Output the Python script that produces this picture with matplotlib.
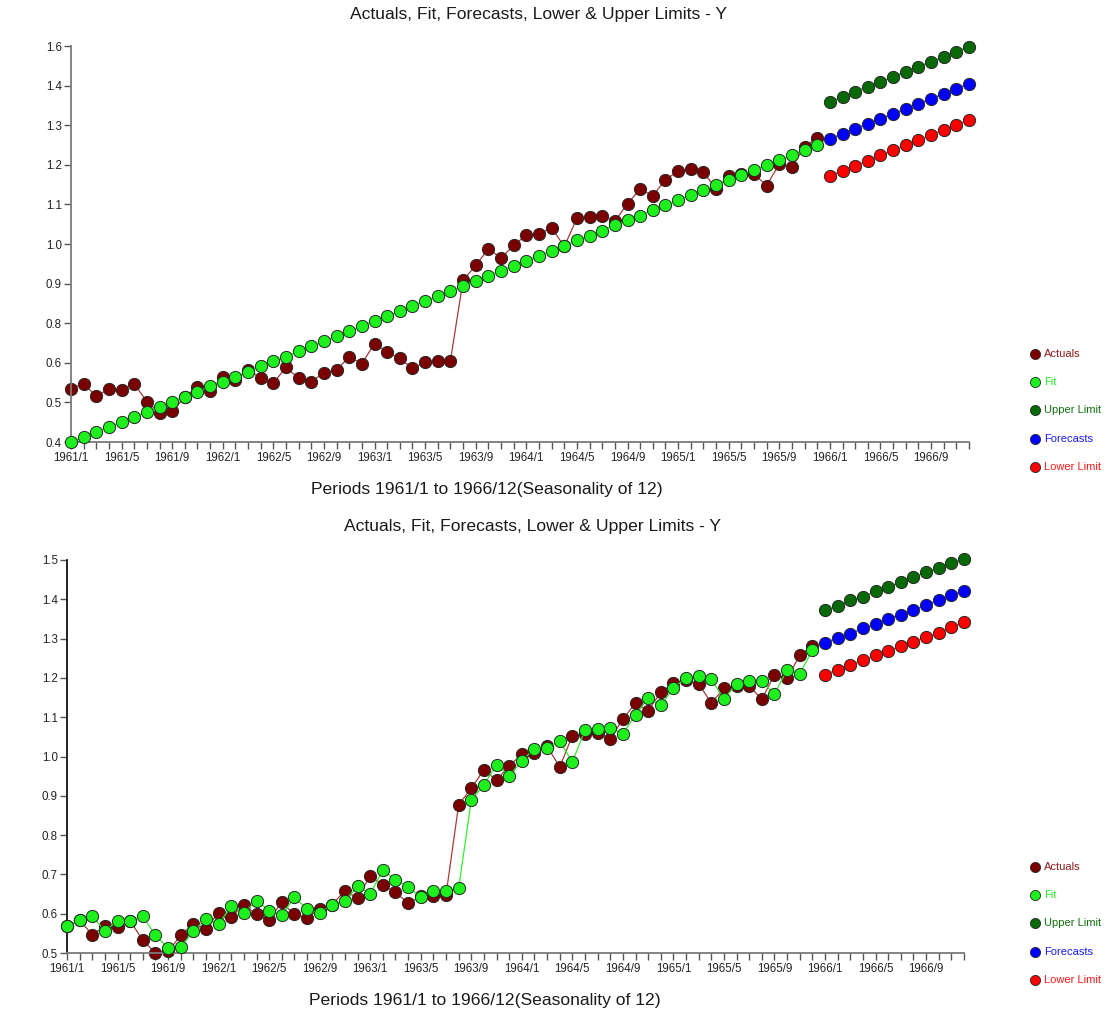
import matplotlib
matplotlib.use('Agg')
import matplotlib.pyplot as plt
from matplotlib.lines import Line2D
import numpy as np

plt.rcParams['font.family'] = ['Liberation Sans', 'DejaVu Sans']

# ---------------- data ----------------
n_periods = 72
tick_labels = ["1961/1", "1961/5", "1961/9", "1962/1", "1962/5", "1962/9",
               "1963/1", "1963/5", "1963/9", "1964/1", "1964/5", "1964/9",
               "1965/1", "1965/5", "1965/9", "1966/1", "1966/5", "1966/9"]

actuals = [0.569, 0.583, 0.547, 0.568, 0.566, 0.582, 0.532, 0.500, 0.504, 0.545,
           0.574, 0.562, 0.603, 0.592, 0.623, 0.598, 0.585, 0.629, 0.598, 0.589,
           0.613, 0.623, 0.659, 0.640, 0.697, 0.672, 0.655, 0.626, 0.644, 0.646,
           0.648, 0.877, 0.919, 0.966, 0.940, 0.976, 1.006, 1.009, 1.026, 0.973,
           1.053, 1.056, 1.060, 1.045, 1.095, 1.136, 1.117, 1.163, 1.187, 1.194,
           1.185, 1.136, 1.174, 1.179, 1.179, 1.146, 1.208, 1.200, 1.257, 1.282]

# top panel (trend model)
fit_top = [0.417, 0.431, 0.446, 0.460, 0.474, 0.489, 0.503, 0.517, 0.532, 0.546,
           0.560, 0.575, 0.589, 0.603, 0.617, 0.632, 0.646, 0.660, 0.675, 0.689,
           0.703, 0.718, 0.732, 0.746, 0.761, 0.775, 0.789, 0.804, 0.818, 0.832,
           0.847, 0.861, 0.875, 0.890, 0.904, 0.918, 0.933, 0.947, 0.961, 0.975,
           0.990, 1.004, 1.018, 1.033, 1.047, 1.061, 1.076, 1.090, 1.104, 1.119,
           1.133, 1.147, 1.162, 1.176, 1.190, 1.205, 1.219, 1.233, 1.248, 1.262]
upper_top = [1.384, 1.398, 1.413, 1.427, 1.441, 1.455, 1.470, 1.484, 1.498, 1.512, 1.527, 1.541]
fcst_top = [1.279, 1.293, 1.308, 1.322, 1.336, 1.350, 1.365, 1.379, 1.393, 1.407, 1.422, 1.436]
lower_top = [1.174, 1.188, 1.203, 1.217, 1.232, 1.246, 1.261, 1.275, 1.290, 1.304, 1.319, 1.333]
ylim_top = (0.417, 1.543)
ylabels_top = ["0.4", "0.5", "0.6", "0.8", "0.9", "1.0", "1.1", "1.2", "1.3", "1.4", "1.6"]

# bottom panel (random walk with drift style model)
fit_bot = [0.569, 0.583, 0.593, 0.557, 0.581, 0.582, 0.593, 0.545, 0.513, 0.514,
           0.555, 0.587, 0.574, 0.619, 0.602, 0.633, 0.608, 0.596, 0.642, 0.612,
           0.602, 0.623, 0.633, 0.670, 0.651, 0.710, 0.687, 0.668, 0.642, 0.657,
           0.659, 0.665, 0.889, 0.928, 0.979, 0.951, 0.989, 1.020, 1.022, 1.039,
           0.986, 1.067, 1.071, 1.073, 1.058, 1.106, 1.149, 1.130, 1.174, 1.200,
           1.204, 1.197, 1.146, 1.185, 1.191, 1.191, 1.159, 1.221, 1.211, 1.270]
upper_bot = [1.372, 1.382, 1.397, 1.406, 1.420, 1.431, 1.444, 1.456, 1.469, 1.480, 1.492, 1.503]
fcst_bot = [1.290, 1.301, 1.312, 1.326, 1.337, 1.351, 1.361, 1.372, 1.386, 1.398, 1.410, 1.422]
lower_bot = [1.208, 1.221, 1.232, 1.245, 1.257, 1.269, 1.280, 1.291, 1.304, 1.314, 1.330, 1.341]
ylim_bot = (0.5, 1.5)
ylabels_bot = ["0.5", "0.6", "0.7", "0.8", "0.9", "1.0", "1.1", "1.2", "1.3", "1.4", "1.5"]

series_names = ["Actuals", "Fit", "Upper Limit", "Forecasts", "Lower Limit"]
marker_colors = ["#7a0000", "#1df01d", "#076a07", "#0000ff", "#ff0000"]
line_colors = ["#a83a3a", "#33ee33", "#2f8f2f", "#3333ff", "#ff2a2a"]
text_colors = ["#8b1a1a", "#22ee22", "#107010", "#1a1aff", "#ff1a1a"]

title = "Actuals, Fit, Forecasts, Lower & Upper Limits - Y"
xlabel = "Periods 1961/1 to 1966/12(Seasonality of 12)"

# ---------------- figure ----------------
W, H = 1105, 1011
fig = plt.figure(figsize=(W / 100, H / 100), dpi=100)


def fx(px):
    return px / W


def fy(py):
    return 1 - py / H


def panel(rect_px, actual, fit, upper, fcst, lower, ylim, ylabels,
          yspine_color, title_y, xlabel_y, legend_y0, title_x, xlabel_x):
    left, top, right, bottom = rect_px
    ax = fig.add_axes([fx(left), fy(bottom), fx(right - left), (bottom - top) / H])
    nh = len(actual)
    x_hist = np.arange(nh)
    x_fc = np.arange(nh, nh + len(fcst))
    data = [(x_hist, actual), (x_hist, fit), (x_fc, upper), (x_fc, fcst), (x_fc, lower)]
    for k, (xx, yy) in enumerate(data):
        ax.plot(xx, yy, color=line_colors[k], lw=0.9, zorder=2 + k,
                marker='o', ms=8.8, mfc=marker_colors[k], mec='#262626', mew=0.7,
                clip_on=False)
    ax.set_xlim(0, n_periods - 1)
    ax.set_ylim(*ylim)
    ax.set_yticks(np.linspace(ylim[0], ylim[1], len(ylabels)))
    ax.set_yticklabels(ylabels)
    major = np.arange(0, n_periods, 4)
    ax.set_xticks(major)
    ax.set_xticklabels(tick_labels)
    ax.set_xticks(np.arange(n_periods), minor=True)
    for s in ['top', 'right']:
        ax.spines[s].set_visible(False)
    ax.spines['left'].set_color(yspine_color)
    ax.spines['bottom'].set_color('#7a7a7a')
    ax.spines['left'].set_linewidth(1.3)
    ax.spines['bottom'].set_linewidth(1.3)
    ax.tick_params(axis='x', which='both', length=5, width=1, color='#555555',
                   direction='out', pad=2.5, labelsize=8.3, labelcolor='#222222')
    ax.tick_params(axis='y', which='both', length=5, width=1, color='#555555',
                   direction='out', pad=1.5, labelsize=8.3, labelcolor='#222222')
    fig.text(fx(title_x), fy(title_y), title, ha='center', va='center',
             fontsize=12.6, color='#1a1a1a')
    fig.text(fx(xlabel_x), fy(xlabel_y), xlabel, ha='center', va='center',
             fontsize=12.6, color='#1a1a1a')
    for k, name in enumerate(series_names):
        yy = legend_y0 + 28.2 * k
        fig.add_artist(Line2D([fx(1035)], [fy(yy)], marker='o', ms=7.3,
                              mfc=marker_colors[k], mec='#262626', mew=0.6,
                              linestyle='none', transform=fig.transFigure))
        fig.text(fx(1044), fy(yy), name, ha='left', va='center',
                 fontsize=8.0, color=text_colors[k])
    return ax


panel((71, 46, 969, 442), actuals, fit_top, upper_top, fcst_top, lower_top,
      ylim_top, ylabels_top, '#7a7a7a', 15, 490, 354, 538, 487)
panel((67, 560, 964, 953), actuals, fit_bot, upper_bot, fcst_bot, lower_bot,
      ylim_bot, ylabels_bot, '#111111', 527, 1000, 867, 532, 485)

fig.savefig('out.png', dpi=100)
